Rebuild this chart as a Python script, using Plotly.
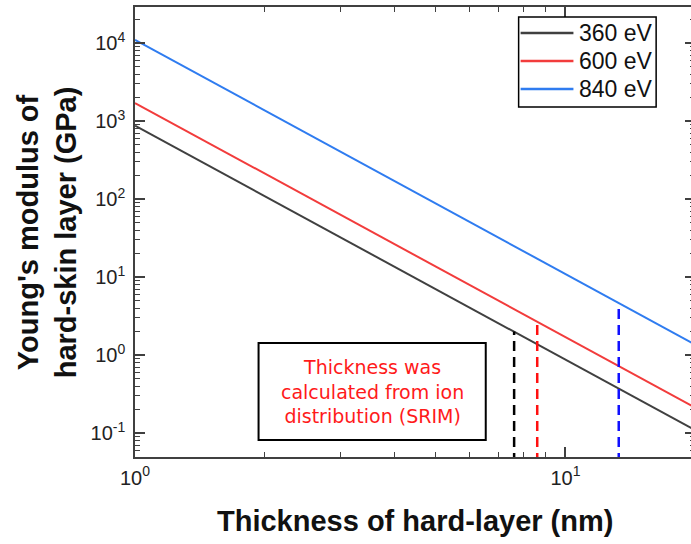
import math
import plotly.graph_objects as go

# Hard-skin layer thickness (nm) and Young's modulus (GPa) for each ion energy
thickness_nm = [1, 20]
energy_labels = ["360 eV", "600 eV", "840 eV"]
modulus_360 = [870, 0.109]
modulus_600 = [1700, 0.212]
modulus_840 = [11000, 1.36]

# SRIM-derived thickness for each energy and the modulus at that thickness
srim_thickness = [7.6, 8.6, 13.3]
srim_modulus = [2.0, 2.7, 4.6]

x_tickvals = [1, 10]
x_ticktext = ["10<sup>0</sup>", "10<sup>1</sup>"]
y_tickvals = [0.1, 1, 10, 100, 1000, 10000]
y_ticktext = ["10<sup>-1</sup>", "10<sup>0</sup>", "10<sup>1</sup>",
              "10<sup>2</sup>", "10<sup>3</sup>", "10<sup>4</sup>"]

line_colors = ["#404040", "#f23c3c", "#2f7cf0"]
dash_colors = ["#000000", "#ff1010", "#1010ff"]

# Canvas geometry (pixels)
W, H = 698, 544
L, R, T, B = 135, 697, 7, 457


def px_x(p):
    return (p - L) / (R - L)


def px_y(p):
    return (B - p) / (B - T)


fig = go.Figure()

for vals, name, col in zip([modulus_360, modulus_600, modulus_840], energy_labels, line_colors):
    fig.add_trace(go.Scatter(x=thickness_nm, y=vals, mode="lines", name=name,
                             line=dict(color=col, width=2), showlegend=False))

for xt, yt, col in zip(srim_thickness, srim_modulus, dash_colors):
    fig.add_trace(go.Scatter(x=[xt, xt], y=[0.01, yt], mode="lines",
                             line=dict(color=col, width=2.5, dash="10px,6px"),
                             showlegend=False))

axis_col = "#404040"
common = dict(type="log", showline=True, linecolor=axis_col, linewidth=1.5,
              mirror="allticks", ticks="inside", ticklen=10, tickwidth=1.5,
              tickcolor=axis_col, showgrid=False, zeroline=False,
              tickfont=dict(family="Arial", size=20, color="#222222"))

x_minor = [m * 10 ** d for d in range(0, 2) for m in range(2, 10)] + [20]
y_minor = [m * 10 ** d for d in range(-2, 5) for m in range(2, 10)]

fig.update_xaxes(range=[0, math.log10(20)], tickmode="array", tickvals=x_tickvals,
                 ticktext=x_ticktext, ticklabelstandoff=2,
                 minor=dict(tickmode="array", tickvals=x_minor, ticks="inside",
                            ticklen=5, tickwidth=1.2, tickcolor=axis_col),
                 **common)
fig.update_yaxes(range=[-1.3077, 4.4615], tickmode="array", tickvals=y_tickvals,
                 ticktext=y_ticktext, ticklabelstandoff=4,
                 minor=dict(tickmode="array", tickvals=y_minor, ticks="inside",
                            ticklen=5, tickwidth=1.2, tickcolor=axis_col),
                 **common)

shapes = []
annotations = []

# Legend box and entries
shapes.append(dict(type="rect", xref="paper", yref="paper",
                   x0=px_x(520), x1=px_x(658), y0=px_y(107), y1=px_y(17),
                   line=dict(color="#000000", width=1.5), fillcolor="white"))
row_y = [33, 61, 89]
for name, col, ry in zip(energy_labels, line_colors, row_y):
    shapes.append(dict(type="line", xref="paper", yref="paper",
                       x0=px_x(522), x1=px_x(575), y0=px_y(ry), y1=px_y(ry),
                       line=dict(color=col, width=2.5)))
    annotations.append(dict(text=name, xref="paper", yref="paper",
                            x=px_x(579), y=px_y(ry), xanchor="left", yanchor="middle",
                            showarrow=False,
                            font=dict(family="Arial", size=23, color="#111111")))

# Note box
shapes.append(dict(type="rect", xref="paper", yref="paper",
                   x0=px_x(259), x1=px_x(487), y0=px_y(440), y1=px_y(343),
                   line=dict(color="#000000", width=2), fillcolor="white"))
annotations.append(dict(text="Thickness was<br>calculated from ion<br>distribution (SRIM)",
                        xref="paper", yref="paper", x=px_x(373), y=px_y(391.5),
                        xanchor="center", yanchor="middle", align="center",
                        showarrow=False,
                        font=dict(family="DejaVu Sans", size=19, color="#ff1a1a")))

# Axis titles
annotations.append(dict(text="<b>Thickness of hard-layer (nm)</b>", xref="paper", yref="paper",
                        x=0.5, y=px_y(521), xanchor="center", yanchor="middle",
                        showarrow=False,
                        font=dict(family="Arial", size=29, color="#111111")))
annotations.append(dict(text="<b>Young's modulus of<br>hard-skin layer (GPa)</b>",
                        xref="paper", yref="paper", x=px_x(47), y=0.5,
                        xanchor="center", yanchor="middle", textangle=-90,
                        showarrow=False,
                        font=dict(family="Arial", size=29, color="#111111")))

fig.update_layout(width=W, height=H, margin=dict(l=L, r=W - R, t=T, b=H - B),
                  plot_bgcolor="white", paper_bgcolor="white",
                  shapes=shapes, annotations=annotations, showlegend=False)

fig.write_html("out.html",
               post_script="document.documentElement.style.overflow='hidden';"
                           "document.body.style.overflow='hidden';")
